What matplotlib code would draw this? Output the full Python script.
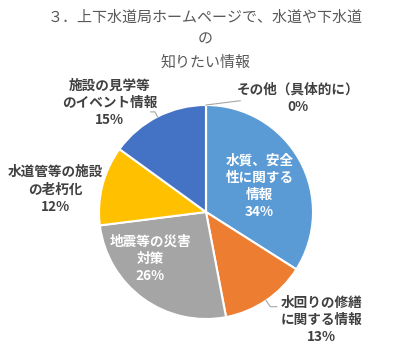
import numpy as np
import matplotlib
matplotlib.use('Agg')
import matplotlib.pyplot as plt

plt.rcParams['font.family'] = ['Noto Sans CJK JP', 'DejaVu Sans']

title = '３．上下水道局ホームページで、水道や下水道\nの\n知りたい情報'
categories = ['水質、安全\n性に関する\n情報', '水回りの修繕\nに関する情報', '地震等の災害\n対策',
              '水道管等の施設\nの老朽化', '施設の見学等\nのイベント情報', 'その他（具体的に）']
values = [34, 13, 26, 12, 15, 0]
colors = ['#5B9BD5', '#ED7D31', '#A5A5A5', '#FFC000', '#4472C4', '#70AD47']

# label block centres (pie radius = 1) and text colour
label_pos = [(0.50, 0.24), (1.08, -1.01), (-0.52, -0.44), (-1.41, 0.21), (-0.90, 1.02), (0.86, 1.06)]
label_col = ['white', '#404040', 'white', '#404040', '#404040', '#404040']

W, H = 411, 354
fig = plt.figure(figsize=(W / 100, H / 100), dpi=100)
cx, cy, r = 206, 212, 107
ax = fig.add_axes([(cx - r) / W, (H - cy - r) / H, 2 * r / W, 2 * r / H])

wedges, _ = ax.pie(values, colors=colors, startangle=90, counterclock=False, radius=1,
                   wedgeprops=dict(edgecolor='white', linewidth=1.5))
ax.set_xlim(-1, 1)
ax.set_ylim(-1, 1)
ax.set_aspect('equal')
ax.axis('off')

total = sum(values)
for name, v, (lx, ly), c in zip(categories, values, label_pos, label_col):
    ax.text(lx, ly, f'{name}\n{round(100 * v / total)}%', ha='center', va='center',
            fontsize=9.8, fontweight='bold', color=c, linespacing=1.3, clip_on=False)

# leader lines
def edge_point(w, rr=1.0):
    a = np.deg2rad((w.theta1 + w.theta2) / 2)
    return rr * np.cos(a), rr * np.sin(a)

lc = '#A6A6A6'
x0, y0 = edge_point(wedges[5])
ax.plot([x0, 0.32], [y0, 1.04], color=lc, lw=0.8, clip_on=False)
x0, y0 = edge_point(wedges[1])
x1, y1 = edge_point(wedges[1], 1.07)
ax.plot([x0, x1, x1 + 0.06], [y0, y1, y1], color=lc, lw=0.8, clip_on=False)
x0, y0 = edge_point(wedges[4])
x1, y1 = edge_point(wedges[4], 1.05)
ax.plot([x0, x1, x1 - 0.04], [y0, y1, y1], color=lc, lw=0.8, clip_on=False)

fig.text(0.5, 1 - 40 / H, title, ha='center', va='center', fontsize=10.8,
         color='#595959', linespacing=1.75)

fig.savefig('out.png', dpi=100)
